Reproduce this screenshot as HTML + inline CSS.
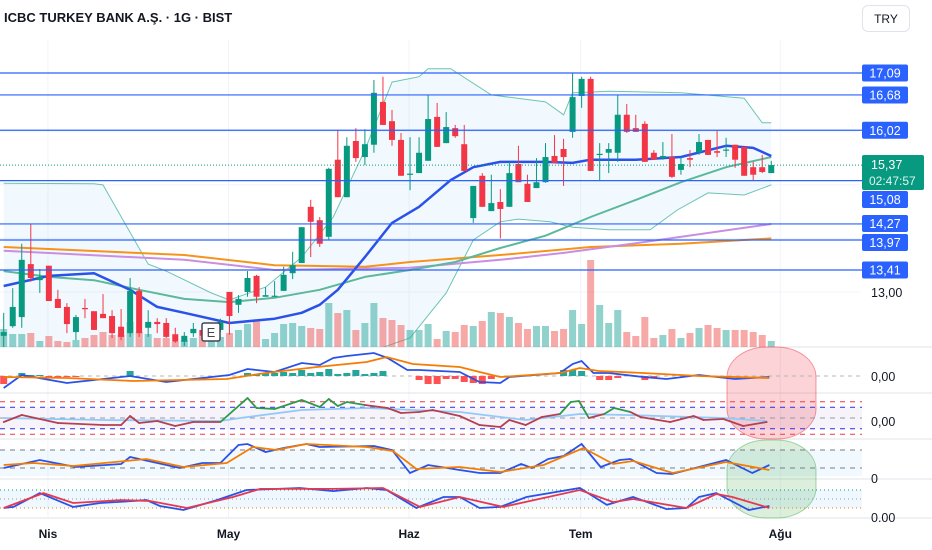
<!DOCTYPE html>
<html><head><meta charset="utf-8"><style>
html,body{margin:0;padding:0;background:#fff;}
body{width:932px;height:550px;overflow:hidden;font-family:"Liberation Sans",sans-serif;position:relative;}
#title{position:absolute;left:4px;top:10px;font-size:13px;font-weight:bold;color:#131722;}
#try{position:absolute;left:862px;top:5px;width:48px;height:27px;border:1px solid #e0e3eb;border-radius:6px;font-size:12px;line-height:27px;text-align:center;color:#131722;box-sizing:border-box;}
svg{position:absolute;left:0;top:0;}
</style></head><body>
<div id="title">ICBC TURKEY BANK A.Ş. · 1G · BIST</div>
<div id="try">TRY</div>
<svg id="c" width="932" height="550"></svg>
<script>
// ---- candle data ----
const opens=[12.18,12.36,12.53,13.52,13.22,13.49,12.87,12.72,12.25,12.70,12.64,12.59,12.55,12.35,12.23,13.02,12.33,12.44,12.42,12.21,12.07,12.23,12.29,12.18,12.29,13.00,12.76,13.00,13.30,12.91,12.92,13.02,13.35,13.54,14.59,14.34,14.03,15.47,14.77,15.82,15.52,15.75,16.55,16.19,15.84,15.19,15.22,15.45,16.27,15.78,16.06,15.76,14.38,15.17,14.51,14.68,14.59,15.39,15.02,14.94,15.05,15.54,15.67,15.99,16.66,16.98,15.56,15.60,15.60,16.31,16.06,16.14,15.60,15.50,15.52,15.28,15.50,15.61,15.84,15.63,15.64,15.75,15.71,15.33,15.33,15.22];
const highs=[12.61,13.07,13.90,14.27,13.43,13.49,13.04,12.79,12.57,12.87,12.64,12.96,12.66,12.68,13.26,13.09,12.66,12.51,12.51,12.33,12.25,12.42,12.33,12.35,12.50,13.00,12.94,13.39,13.32,13.09,13.20,13.47,13.75,14.21,14.72,14.40,15.32,16.02,15.89,16.06,16.04,16.96,17.02,16.40,15.97,15.89,15.89,16.68,16.53,16.36,16.12,16.12,14.98,15.22,15.19,14.92,15.43,15.73,15.19,15.50,15.78,15.93,15.86,17.09,17.02,17.02,15.78,15.78,16.68,16.51,16.31,16.19,15.65,15.80,15.95,15.52,15.65,15.95,15.84,16.01,15.88,15.75,15.71,15.43,15.56,15.45];
const lows=[11.97,12.33,12.33,13.19,12.98,12.83,12.70,12.23,12.10,12.51,12.29,12.51,12.14,12.10,12.16,12.16,12.16,12.23,12.14,12.05,11.99,12.16,12.14,12.12,12.25,12.20,12.61,12.91,12.79,12.91,12.91,13.02,13.24,13.54,13.65,13.84,13.97,14.77,14.77,15.43,15.37,15.60,16.12,15.73,15.17,14.90,15.22,15.45,15.71,15.78,15.88,15.26,14.29,14.59,14.51,14.00,14.59,15.05,14.68,14.94,15.04,15.41,14.98,15.88,16.44,15.26,15.07,15.22,15.43,15.97,15.99,15.43,15.47,15.47,15.13,15.19,15.33,15.56,15.56,15.52,15.52,15.32,15.17,15.07,15.22,15.22];
const closes=[12.25,12.72,13.60,13.26,13.28,12.83,12.70,12.40,12.53,12.68,12.29,12.51,12.23,12.16,13.02,12.23,12.44,12.40,12.16,12.07,12.18,12.31,12.18,12.29,12.44,12.55,12.87,13.26,12.91,12.94,12.93,13.32,13.50,14.21,14.31,13.90,15.30,14.77,15.73,15.50,15.76,16.72,16.12,15.84,15.17,15.21,15.60,16.23,15.71,16.08,15.91,15.26,14.98,14.59,14.66,14.55,15.22,15.05,14.68,15.05,15.52,15.41,15.52,16.64,16.98,15.26,15.58,15.67,16.31,15.99,15.99,15.43,15.47,15.54,15.15,15.39,15.47,15.80,15.56,15.60,15.66,15.47,15.17,15.19,15.24,15.37];
const volumes=[18,13,13,14,6,11,6,5,7,9,12,15,12,12,25,15,13,9,9,5,7,9,11,12,10,14,17,23,27,8,14,23,24,21,19,18,44,34,37,17,24,44,29,27,22,17,17,23,8,16,15,22,21,26,35,34,30,24,18,21,21,16,18,37,23,87,42,24,37,15,11,30,9,12,18,9,14,19,22,19,17,17,17,15,12,6];
// ---- overlays ----
const ma20Idx=[0,5,10,14,17,20,25,30,33,35,37,40,43,46,49.5,52,55,60,63,65,70,75,80,83,85];
const ma20Val=[13.11,13.30,13.35,13.04,12.72,12.61,12.42,12.50,12.61,12.76,13.04,13.65,14.29,14.59,15.09,15.33,15.43,15.43,15.41,15.47,15.47,15.52,15.73,15.69,15.54];
const ma50Idx=[0,5,10,15,20,25,30,35,40,45,50,55,60,65,70,75,80,85];
const ma50Val=[13.39,13.28,13.22,13.04,12.87,12.81,12.89,13.04,13.28,13.41,13.56,13.82,14.05,14.40,14.72,15.05,15.33,15.52];
const ma100Idx=[0,20,30,45,55,62,70,85];
const ma100Val=[13.77,13.60,13.41,13.45,13.60,13.73,13.91,14.27];
const ma200Idx=[0,20,30,40,45,55,65,75,85];
const ma200Val=[13.84,13.69,13.50,13.47,13.56,13.69,13.84,13.90,14.00];
const bbUpIdx=[0,10,11,16,18,23,25,29,33,36.5,40,43,46,47,49.5,54,60,62,63,67,75,82,84,85];
const bbUpVal=[15.03,15.02,15.00,13.52,13.39,12.98,12.85,13.09,13.65,14.40,15.65,16.92,17.02,17.17,17.17,16.68,16.55,16.31,16.72,16.75,16.72,16.62,16.16,16.16];
const bbLoIdx=[0,20,30,38,45,49,52,55,57,60.5,63,67,71.6,74.6,78,82,85];
const bbLoVal=[11.73,11.35,11.5,11.73,12.14,12.98,13.97,14.31,14.36,14.31,14.21,14.16,14.16,14.53,14.85,14.81,15.00];
const levels=[17.09,16.68,16.02,15.08,14.27,13.97,13.41];
const levelLabels=["17,09","16,68","16,02","15,08","14,27","13,97","13,41"];
const lastPrice=15.37;
// ---- MACD ----
const macdIdx=[0,2,7,14,18,25,27,30,33,35,36.5,38,41,42.5,44.7,46,50.5,52.7,55,56,61.6,63,64,65.3,67,70.8,73.4,77,81,84.8];
const macdVal=[-0.12,0.01,-0.07,0.00,-0.06,0.01,0.07,0.04,0.13,0.11,0.18,0.20,0.23,0.18,0.06,0.06,0.04,-0.06,-0.07,-0.01,0.03,0.12,0.15,0.03,0.03,-0.01,-0.03,0.01,-0.03,-0.01];
const sigIdx=[0,7,14.3,24.7,29,34.7,40.2,42.4,45.3,50.5,52.7,55,61.6,63.8,65.9,70.8,77,84.8];
const sigVal=[-0.01,-0.02,-0.05,-0.03,0.03,0.09,0.14,0.19,0.12,0.09,0.04,-0.01,0.03,0.08,0.05,0.03,0.00,-0.02];
const histIdx=[0,2,3,4,5,6,7,8,14,27,28,29,30,31,32,33,34,35,36,37,38,39,40,41,42,46,47,48,49,50,51,52,53,54,62,63,64,66,67,68,71,72];
const histVal=[-0.08,0.03,0.01,0.01,-0.01,-0.01,-0.01,-0.01,0.05,0.03,0.02,0.03,0.03,0.04,0.03,0.06,0.03,0.04,0.07,0.02,0.03,0.06,0.02,0.03,0.05,-0.04,-0.08,-0.08,-0.03,-0.03,-0.06,-0.07,-0.08,-0.03,0.06,0.06,0.05,-0.04,-0.04,-0.02,-0.04,-0.02];
// ---- RSI ----
const rsiIdx=[0,2,6,11,13,14,15,17,19,21,24,27,28,30,33,35,36,37,38,40,42.5,44,46,47.5,50.5,52.7,55,56,57.8,59.6,61.6,62.8,63.7,64.8,66.5,67.6,69.4,70.5,73.8,76.4,77.5,79.7,81.9,84.5];
const rsiVal=[42.6,55.6,40.7,37,37,53.7,40.7,44.4,35.2,42.6,42.6,87,68.5,66.7,83.3,70.4,85.2,72.2,79.6,74,68.5,59.3,61.1,64.8,53.7,37,33.3,46.3,37,51.9,57.4,79.6,81.5,50,57.4,68.5,61.1,51.9,42.6,53.7,46.3,48.1,35.2,42.6];
const rsiMaIdx=[0,11,24,26.2,33,40.2,50.5,57.8,63.8,68.9,79.7,84.5];
const rsiMaVal=[50,46.3,44.4,50,64.8,68.5,61.1,46.3,57.4,55.6,50,44.4];
// ---- Stochastic ----
const stKIdx=[0,4,8,13,14,15.5,19.5,22,24,26,27,29,31,33.5,35,41,43,45,47,50.5,52.7,55,57.3,58.5,60.3,62,64,66.1,68.2,69.4,72.3,74,77,80,82.9,84.8];
const stKVal=[20,46.7,23.3,33.3,56.7,46.7,20,36.7,36.7,96.7,100,73.3,86.7,100,90,93.3,80,3.3,30,13.3,3.3,3.3,33.3,20,50,60,100,23.3,46.7,50,3.3,0,23.3,46.7,3.3,30];
const stDIdx=[0,3.3,7.7,15.8,19.9,24.7,27.6,30.2,33.5,40.2,43.1,45.7,50.5,55,59.8,64.2,67.5,69.7,74.1,80,84.8];
const stDVal=[30,36.7,26.7,50,23.3,36.7,90,80,100,90,76.7,16.7,23.3,6.7,30,86.7,33.3,43.3,3.3,40,13.3];
// ---- Pane 4 ----
const p4BlueIdx=[0,1.1,4,7.7,10.7,14.4,15.8,17.3,19.9,23.6,26.9,32.8,36.5,40.2,42.4,45.7,48.7,50.5,52.7,55,57.9,63.8,66.8,69.7,73.4,75.6,77,78.9,82.5,84.8];
const p4BlueVal=[0,0.06,0.83,0.06,0.28,0.39,0.44,0.11,-0.11,0.44,1,1.11,0.94,1.11,1,0,0.61,0.61,0,0.06,0.61,1.11,0.17,0.61,-0.06,0,0.61,0.83,-0.11,0.11];
const p4RedIdx=[0,4.4,7.7,12.9,16.2,20.3,25.4,28.4,36.5,42,46.1,50.5,55.3,63.8,67.5,69.7,75.6,78.9,80.7,84.8];
const p4RedVal=[0,0.83,0.28,0.44,0.39,0,0.61,1.06,1.06,1.11,0.06,0.61,0.06,1,0.33,0.5,0,0.78,0.61,0];
const monthLabels=["Nis","May","Haz","Tem","Ağu"];
const monthIdx=[4.9,24.9,44.9,63.9,86];

// ---- scales ----
const X=i=>3.7+i*9.03;
const Y=p=>73+(17.09-p)*53.53;
const Ymacd=v=>376-v*100;
const Yrsi=v=>418-(v-50)*0.54;
const Ysto=v=>468-(v-20)*0.3;
const Yp4=v=>508-v*18;
const NS="http://www.w3.org/2000/svg";
const svg=document.getElementById('c');
function mk(tag,attrs,parent){const e=document.createElementNS(NS,tag);for(const k in attrs)e.setAttribute(k,attrs[k]);(parent||svg).appendChild(e);return e;}
function pts(idx,val,ys){return idx.map((d,i)=>X(d).toFixed(1)+','+ys(val[i]).toFixed(1)).join(' ');}

// clip for main pane
const defs=mk('defs',{});
const cp=mk('clipPath',{id:'mainclip'},defs);mk('rect',{x:0,y:40,width:860,height:307},cp);

// grid: month verticals
monthIdx.forEach((m,i)=>{
  const l=mk('line',{x1:X(m),x2:X(m),y1:40,y2:518,stroke:'#f0f3fa','stroke-width':1});
  
  
  const t=mk('text',{x:X(m),y:538,'text-anchor':'middle','font-size':12,'font-weight':'bold',fill:'#131722'});
  t.textContent=monthLabels[i];
  
  
});
// horizontal price grid
[16,15,14,13].forEach(p=>{mk('line',{x1:0,x2:860,y1:Y(p),y2:Y(p),stroke:'#f3f4f8'});});
// pane separators
[347,393,439,479,518].forEach(y=>{const l=mk('line',{x1:0,x2:932,y1:y,y2:y,stroke:'#e0e3eb'});
 
 });

const main=mk('g',{'clip-path':'url(#mainclip)'});


// BB fill
const bbPoly=pts(bbUpIdx,bbUpVal,Y)+' '+bbLoIdx.slice().reverse().map((d,k)=>{const i=bbLoIdx.length-1-k;return X(d).toFixed(1)+','+Y(bbLoVal[i]).toFixed(1);}).join(' ');
const bbf=mk('polygon',{points:bbPoly,fill:'rgba(33,150,243,0.06)'},main);


const bbu=mk('polyline',{points:pts(bbUpIdx,bbUpVal,Y),fill:'none',stroke:'#6cc4b4','stroke-width':1},main);


const bbl=mk('polyline',{points:pts(bbLoIdx,bbLoVal,Y),fill:'none',stroke:'#6cc4b4','stroke-width':1},main);



// volume
volumes.forEach((v,i)=>{const up=closes[i]>=opens[i];
 const r=mk('rect',{x:X(i)-3.5,y:347-v,width:7,height:v,fill:up?'rgba(38,166,154,0.5)':'rgba(239,83,80,0.5)'},main);
 
 });

// levels
levels.forEach(p=>{const l=mk('line',{x1:0,x2:862,y1:Y(p),y2:Y(p),stroke:'#2962ff','stroke-width':1.2});
 
 });
const lp=mk('line',{x1:0,x2:862,y1:Y(lastPrice),y2:Y(lastPrice),stroke:'#089981','stroke-width':1,'stroke-dasharray':'1,2'});



// MAs
[[ma200Idx,ma200Val,'#f7931a',2,'ma-200'],[ma100Idx,ma100Val,'#c98ee0',2,'ma-100'],[ma50Idx,ma50Val,'#5cb89a',2,'ma-50'],[ma20Idx,ma20Val,'#2a52e8',2.5,'ma-20']].forEach(a=>{
 const l=mk('polyline',{points:pts(a[0],a[1],Y),fill:'none',stroke:a[2],'stroke-width':a[3],'stroke-linejoin':'round'},main);
 
 });

// candles
opens.forEach((o,i)=>{const c=closes[i],up=c>=o,col=up?'#089981':'#f23645';
 const g=mk('g',{},main);
 
 
 mk('line',{x1:X(i),x2:X(i),y1:Y(highs[i]),y2:Y(lows[i]),stroke:col,'stroke-width':1},g);
 const t=Math.min(Y(o),Y(c)),h=Math.max(1.2,Math.abs(Y(o)-Y(c)));
 mk('rect',{x:X(i)-3,y:t,width:6,height:h,fill:col},g);});

// E marker
const eg=mk('g',{});


mk('rect',{x:202,y:323,width:18,height:18,rx:2,fill:'#fff',stroke:'#434651','stroke-width':1.5},eg);
const et=mk('text',{x:211,y:337,'text-anchor':'middle','font-size':13,fill:'#434651'},eg);et.textContent='E';

// highlight blobs
const hr=mk('rect',{x:727,y:347,width:89,height:92,rx:40,ry:30,fill:'rgba(242,54,69,0.22)',stroke:'rgba(242,54,69,0.5)'});


const hg=mk('rect',{x:727,y:440,width:89,height:78,rx:40,ry:30,fill:'rgba(76,175,80,0.2)',stroke:'rgba(76,175,80,0.5)'});



// MACD pane
mk('line',{x1:0,x2:862,y1:376,y2:376,stroke:'#b2b5be','stroke-dasharray':'4,4'});
histIdx.forEach((d,i)=>{const v=histVal[i],y0=Ymacd(0),y1=Ymacd(v);
 const r=mk('rect',{x:X(d)-3.5,y:Math.min(y0,y1),width:7,height:Math.abs(y1-y0),fill:v>=0?'#26a69a':'#ff5252'});
 
 });
const ml=mk('polyline',{points:pts(macdIdx,macdVal,Ymacd),fill:'none',stroke:'#2a52e8','stroke-width':1.8});


const sl=mk('polyline',{points:pts(sigIdx,sigVal,Ymacd),fill:'none',stroke:'#f57c00','stroke-width':1.8});



// RSI pane
mk('rect',{x:0,y:Yrsi(70),width:862,height:Yrsi(30)-Yrsi(70),fill:'rgba(126,87,194,0.07)'});
[[80,'#f23645'],[70,'#2a2ae8'],[50,'#9598a1'],[30,'#2a2ae8'],[20,'#f23645']].forEach(a=>{
 const l=mk('line',{x1:0,x2:862,y1:Yrsi(a[0]),y2:Yrsi(a[0]),stroke:a[1],'stroke-dasharray':'5,5'});
 
 });
const rm=mk('polyline',{points:pts(rsiMaIdx,rsiMaVal,Yrsi),fill:'none',stroke:'#90caf9','stroke-width':1.8});


function maAt(d){for(let k=0;k<rsiMaIdx.length-1;k++){if(d<=rsiMaIdx[k+1]){const t=(d-rsiMaIdx[k])/(rsiMaIdx[k+1]-rsiMaIdx[k]);return rsiMaVal[k]+t*(rsiMaVal[k+1]-rsiMaVal[k]);}}return rsiMaVal[rsiMaVal.length-1];}
for(let i=0;i<rsiIdx.length-1;i++){
 const avg=(rsiVal[i]+rsiVal[i+1])/2,m=maAt((rsiIdx[i]+rsiIdx[i+1])/2);
 const s=mk('line',{x1:X(rsiIdx[i]),y1:Yrsi(rsiVal[i]),x2:X(rsiIdx[i+1]),y2:Yrsi(rsiVal[i+1]),stroke:avg>m+5?'#2e9a4c':'#b5404f','stroke-width':1.8,'stroke-linecap':'round'});
 
 }

// Stoch pane
mk('rect',{x:0,y:Ysto(80),width:862,height:Ysto(20)-Ysto(80)+8,fill:'rgba(33,150,243,0.06)'});
[80,20].forEach(v=>{mk('line',{x1:0,x2:862,y1:Ysto(v),y2:Ysto(v),stroke:'#787b86','stroke-dasharray':'5,5'});});
const sk=mk('polyline',{points:pts(stKIdx,stKVal,Ysto),fill:'none',stroke:'#2a52e8','stroke-width':1.8});


const sd=mk('polyline',{points:pts(stDIdx,stDVal,Ysto),fill:'none',stroke:'#f57c00','stroke-width':1.8});



// Pane 4
mk('rect',{x:0,y:Yp4(1),width:862,height:Yp4(0)-Yp4(1),fill:'rgba(33,150,243,0.07)'});
[[1,'#089981'],[0.5,'#9598a1'],[0,'#f57c00']].forEach(a=>{mk('line',{x1:0,x2:862,y1:Yp4(a[0]),y2:Yp4(a[0]),stroke:a[1],'stroke-dasharray':'1,3'});});
const pb=mk('polyline',{points:pts(p4BlueIdx,p4BlueVal,Yp4),fill:'none',stroke:'#2a52e8','stroke-width':1.8});


const pr=mk('polyline',{points:pts(p4RedIdx,p4RedVal,Yp4),fill:'none',stroke:'#e53950','stroke-width':1.8});



// price axis labels
levels.forEach((p,i)=>{let y=Y(p)-8.5;if(i===3)y=191;if(i===5)y=234;if(i===4)y=215;
 const g=mk('g',{});
 
 
 mk('rect',{x:862,y:y,width:46,height:17,rx:2,fill:'#2962ff'},g);
 const t=mk('text',{x:885,y:y+13,'text-anchor':'middle','font-size':12.5,fill:'#fff'},g);t.textContent=levelLabels[i];});
const lg=mk('g',{});


mk('rect',{x:862,y:155,width:62,height:35,rx:2,fill:'#089981'},lg);
const t1=mk('text',{x:871,y:169,'font-size':12.5,fill:'#fff'},lg);t1.textContent='15,37';
const t2=mk('text',{x:869,y:185,'font-size':12,fill:'#dff5ef'},lg);t2.textContent='02:47:57';
const t13=mk('text',{x:871,y:297,'font-size':12.5,fill:'#131722'});t13.textContent='13,00';


[[376,'0,00'],[421,'0,00'],[478,'0'],[517,'0.00']].forEach(a=>{
 const t=mk('text',{x:871,y:a[0]+5,'font-size':12.5,fill:'#131722'});t.textContent=a[1];
 
 });
</script>
</body></html>
